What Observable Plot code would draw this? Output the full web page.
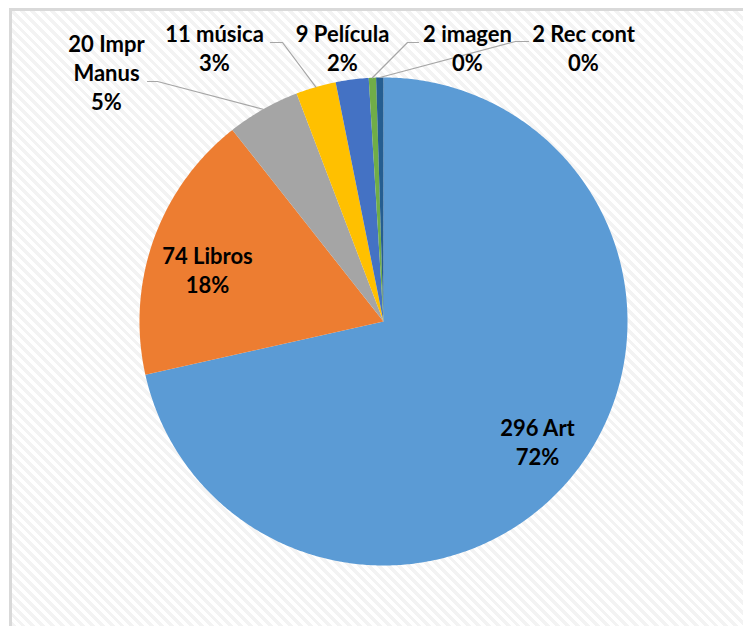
<!DOCTYPE html>
<html><head><meta charset="utf-8">
<script src="https://cdn.jsdelivr.net/npm/d3@7"></script>
<script src="https://cdn.jsdelivr.net/npm/@observablehq/plot@0.6"></script>
<style>
html,body{margin:0;padding:0;background:#fff;overflow:hidden;}
#wrap{position:relative;width:743px;height:626px;overflow:hidden;}
#bg{position:absolute;left:9px;top:8px;width:800px;height:700px;border-left:3px solid #d9d9d9;border-top:3px solid #d9d9d9;
  background:repeating-linear-gradient(45deg,#ffffff 0px,#ffffff 3.5px,#f3f3f3 3.5px,#f3f3f3 7px);}
#chart{position:absolute;left:0;top:0;}
</style></head><body><div id="wrap"><div id="bg"></div><div id="chart"></div></div>
<script>
// ---- data ----
const categories = ["Art", "Libros", "Impr Manus", "música", "Película", "imagen", "Rec cont"];
const counts = [296, 74, 20, 11, 9, 2, 2];
const percents = [72, 18, 5, 3, 2, 0, 0];
const labelNames = ["Art", "Libros", "Impr\nManus", "música", "Película", "imagen", "Rec cont"];
const colors = ["#5B9BD5", "#ED7D31", "#A5A5A5", "#FFC000", "#4472C4", "#70AD47", "#255E91"];

// ---- layout ----
const W = 743, H = 626, cx = 383, cy = 321, R = 244;
const labelAnchors = [[537, 415], [207, 243], [106, 31], [214, 21], [342, 21], [467, 21], [583, 21]];
const leaderLayout = {2: [147, 157, 81], 3: [270, 282, 42], 5: [418, 407, 42], 6: [528, 515, 41]};

const arcs = d3.pie().sort(null).value(d => d)(counts);
const pt = (a, r) => [cx + r * Math.sin(a), cy - r * Math.cos(a)];

const slicePts = [];
arcs.forEach((arc, i) => {
  const a0 = arc.startAngle, a1 = arc.endAngle;
  const n = Math.max(2, Math.ceil((a1 - a0) / (Math.PI / 360)));
  slicePts.push({cat: categories[i], x: cx, y: cy});
  for (let k = 0; k <= n; k++) {
    const [x, y] = pt(a0 + (a1 - a0) * k / n, R);
    slicePts.push({cat: categories[i], x, y});
  }
  slicePts.push({cat: categories[i], x: cx, y: cy});
});

const labels = counts.map((c, i) => ({
  x: labelAnchors[i][0], y: labelAnchors[i][1],
  text: `${c} ${labelNames[i]}\n${percents[i]}%`
}));

const leaderPts = [];
Object.entries(leaderLayout).forEach(([i, [x0, x1, y]]) => {
  const arc = arcs[+i];
  const [ex, ey] = pt((arc.startAngle + arc.endAngle) / 2, R);
  leaderPts.push({k: i, x: x0, y}, {k: i, x: x1, y}, {k: i, x: ex, y: ey});
});

const chart = Plot.plot({
  width: W, height: H, margin: 0,
  x: {domain: [0, W], range: [0, W], axis: null},
  y: {domain: [0, H], range: [0, H], axis: null},
  color: {domain: categories, range: colors},
  style: {background: "transparent", overflow: "visible"},
  marks: [
    Plot.line(slicePts, {x: "x", y: "y", z: "cat", fill: "cat", stroke: null, curve: "linear"}),
    Plot.line(leaderPts, {x: "x", y: "y", z: "k", stroke: "#a6a6a6", strokeWidth: 1.2}),
    Plot.text(labels, {x: "x", y: "y", text: "text", lineAnchor: "top", lineHeight: 1.32,
      fontSize: 22, fontWeight: "bold", fontFamily: "Lato", fill: "#000"})
  ]
});
document.getElementById("chart").appendChild(chart);
</script></body></html>
